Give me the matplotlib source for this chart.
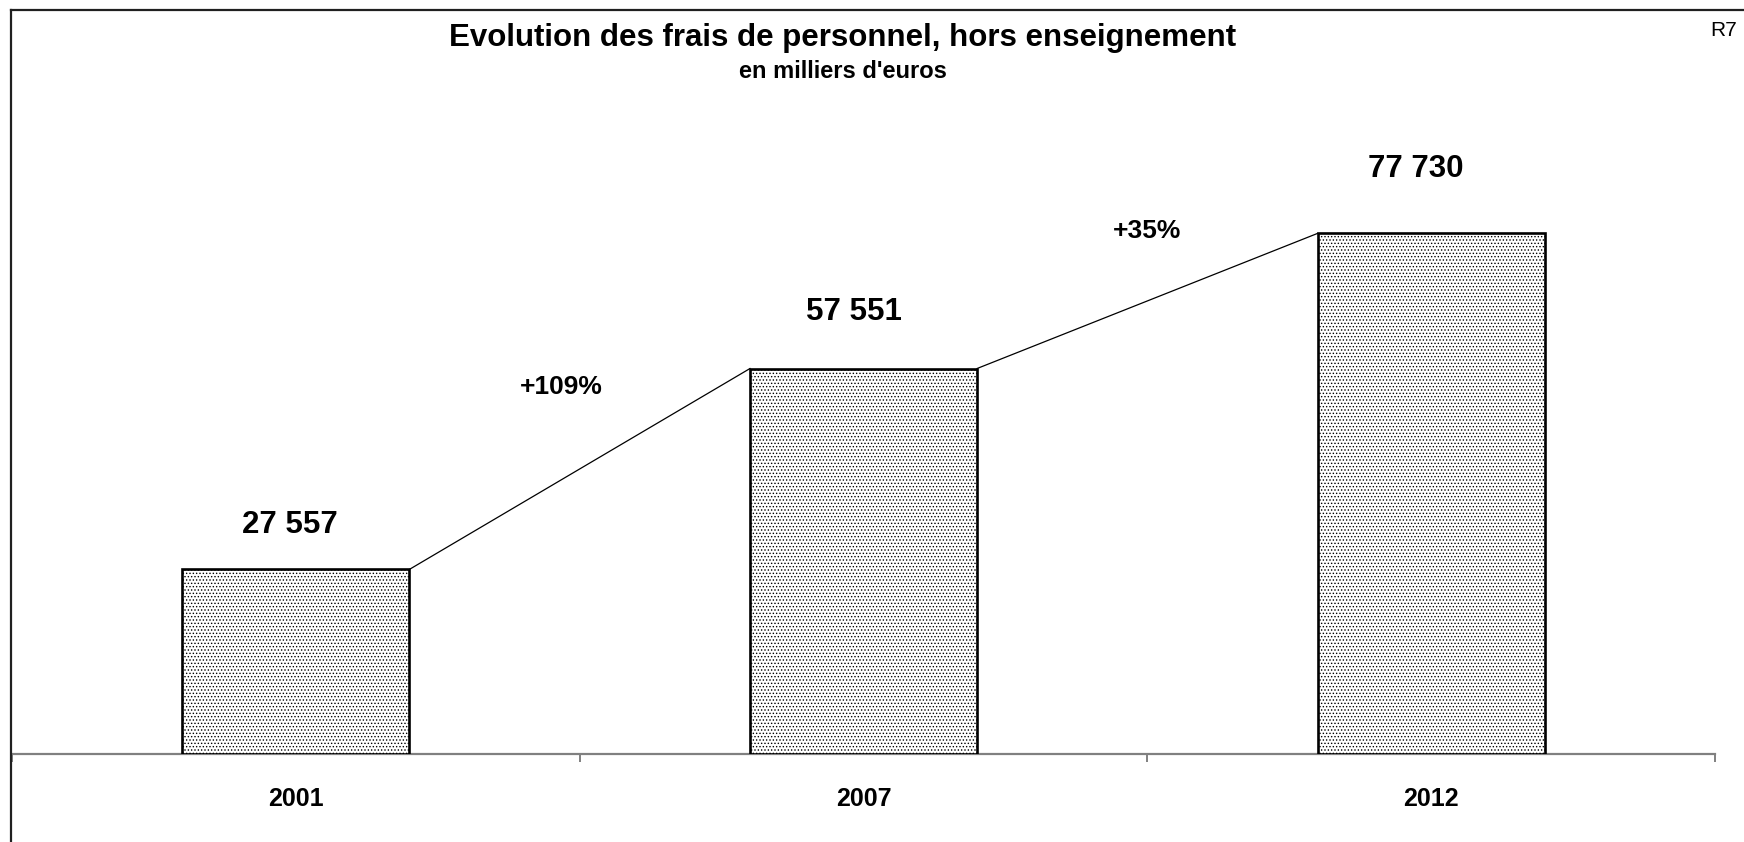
import matplotlib
matplotlib.use("Agg")
import matplotlib.pyplot as plt
from matplotlib.lines import Line2D
import numpy as np

plt.rcParams['font.family'] = ['Liberation Sans', 'DejaVu Sans']
plt.rcParams['hatch.linewidth'] = 0.6

years = ['2001', '2007', '2012']
values = [27557, 57551, 77730]

W, H = 1744, 842
fig = plt.figure(figsize=(W / 100, H / 100), dpi=100)

# axes placed in pixel terms (baseline at y=754, left 12, right 1715, top 10)
ax = fig.add_axes([12 / W, (H - 754) / H, (1715 - 12) / W, (754 - 10) / H])
ax.set_ylim(0, 744 * 149.3)
ax.set_xlim(-0.5, len(years) - 0.5)

x = np.arange(len(years))
bw = 0.4
ax.bar(x, values, width=bw, facecolor='white', edgecolor='black',
       linewidth=1.9, hatch='.....', zorder=3)

# connector lines between bar tops
for i in range(len(values) - 1):
    ax.plot([x[i] + bw / 2, x[i + 1] - bw / 2], [values[i], values[i + 1]],
            color='black', lw=0.9, zorder=2)

# value labels
dx = [-6, -10, -15]
dy = [44, 57, 64]
for i, v in enumerate(values):
    lab = f"{v:,}".replace(",", " ")
    ax.annotate(lab, (x[i], v), xytext=(dx[i], dy[i]), textcoords='offset pixels',
                ha='center', va='center', fontsize=22.5, fontweight='bold')

# growth labels
gdx = [-18, 0]
gdy = [82, 70]
for i in range(len(values) - 1):
    pct = round((values[i + 1] / values[i] - 1) * 100)
    ymid = (values[i] + values[i + 1]) / 2
    ax.annotate(f"+{pct}%", (x[i] + 0.5, ymid), xytext=(gdx[i], gdy[i]),
                textcoords='offset pixels', ha='center', va='center',
                fontsize=19, fontweight='bold')

# axis styling
for s in ['top', 'right', 'left']:
    ax.spines[s].set_visible(False)
ax.spines['bottom'].set_color('#808080')
ax.spines['bottom'].set_linewidth(1.6)
ax.set_yticks([])
ax.set_xticks(np.arange(-0.5, len(years), 1.0))
ax.set_xticklabels([])
ax.tick_params(axis='x', direction='out', length=6, width=1.4, color='#808080')
for i, yr in enumerate(years):
    ax.annotate(yr, (x[i], 0), xytext=(0, -45), textcoords='offset pixels',
                ha='center', va='center', fontsize=18, fontweight='bold')

# titles
fig.text(843 / W, 1 - 38 / H, "Evolution des frais de personnel, hors enseignement",
         ha='center', va='center', fontsize=22.5, fontweight='bold')
fig.text(843 / W, 1 - 71 / H, "en milliers d'euros",
         ha='center', va='center', fontsize=17, fontweight='bold')
fig.text(1737 / W, 1 - 31 / H, "R7", ha='right', va='center', fontsize=15)

# outer frame (top and left edges)
fig.add_artist(Line2D([11 / W, 1.0], [1 - 9.5 / H, 1 - 9.5 / H],
                      transform=fig.transFigure, color='#202020', lw=1.6))
fig.add_artist(Line2D([11 / W, 11 / W], [0, 1 - 9.5 / H],
                      transform=fig.transFigure, color='#202020', lw=1.6))

fig.savefig('out.png', dpi=100)
